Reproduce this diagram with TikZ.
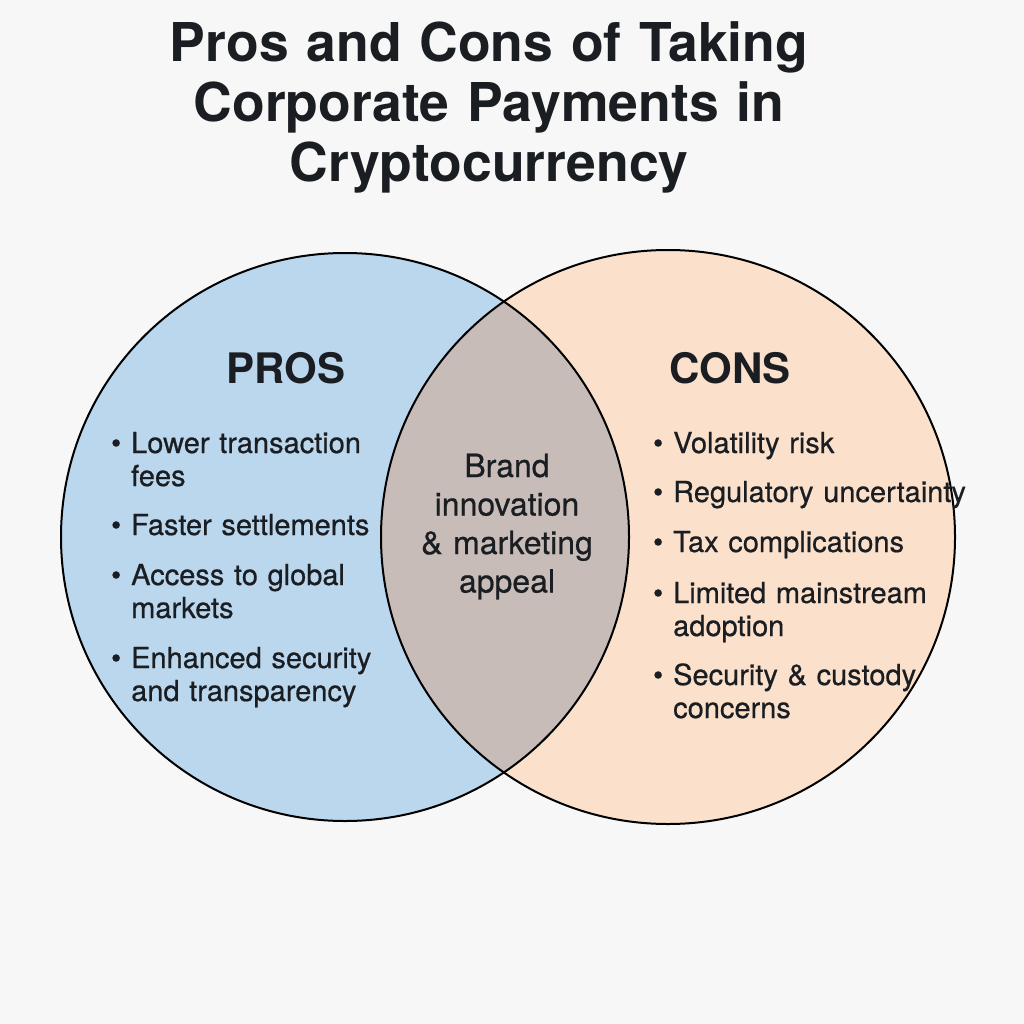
\documentclass[tikz,border=0pt]{standalone}
\usepackage{fontspec}
\setmainfont{TeX Gyre Heros}
\newfontfamily\mediumfont[FakeBold=0.6]{TeX Gyre Heros}
\usepackage{xcolor}

\definecolor{pagegrey}{RGB}{247,247,247}
\definecolor{prosblue}{RGB}{187,215,238}
\definecolor{conspeach}{RGB}{251,225,203}
\definecolor{bothtaupe}{RGB}{199,188,184}
\definecolor{inkdark}{RGB}{26,29,33}

\newcommand{\bul}{\llap{\textbullet\hspace{10pt}}}

\begin{document}
\begin{tikzpicture}[
  x=1pt, y=-1pt,
  %--- text styles ---
  headline/.style={
    font=\fontsize{53.5}{60}\selectfont\bfseries, text=inkdark,
    align=center, text width=900pt, inner sep=0pt, anchor=base
  },
  setname/.style={
    font=\fontsize{42}{48}\selectfont\bfseries, text=inkdark,
    inner sep=0pt, anchor=base
  },
  item/.style={
    font=\mediumfont\fontsize{29}{33}\selectfont, text=inkdark,
    align=left, text width=340pt, inner sep=0pt, anchor=base west
  },
  shared/.style={
    font=\mediumfont\fontsize{32}{38.5}\selectfont, text=inkdark,
    align=center, text width=240pt, inner sep=0pt, anchor=base
  },
  %--- set outline ---
  setline/.style={draw=black, line width=2pt}
]

%------------------------------------------------------------------
%  Page
%------------------------------------------------------------------
\fill[pagegrey] (0,0) rectangle (1024,1024);
\useasboundingbox (0,0) rectangle (1024,1024);

%------------------------------------------------------------------
%  Title
%------------------------------------------------------------------
\node[headline] (title) at (489, 62)
  {Pros and Cons of Taking\\Corporate Payments in\\Cryptocurrency};

%------------------------------------------------------------------
%  Two sets and their overlap
%------------------------------------------------------------------
\coordinate (proscentre) at (345, 537);
\coordinate (conscentre) at (668, 537);

\fill[prosblue]  (proscentre) circle (284pt);
\fill[conspeach] (conscentre) circle (287pt);
\begin{scope}
  \clip (proscentre) circle (284pt);
  \fill[bothtaupe] (conscentre) circle (287pt);
\end{scope}
\draw[setline] (proscentre) circle (284pt);
\draw[setline] (conscentre) circle (287pt);

%------------------------------------------------------------------
%  Headings
%------------------------------------------------------------------
\node[setname] (proshead) at (286, 383) {PROS};
\node[setname] (conshead) at (730, 383) {CONS};

%------------------------------------------------------------------
%  Pros list
%------------------------------------------------------------------
\node[item] (pro1) at (131, 453) {\bul Lower transaction\\fees};
\node[item] (pro2) at (131, 535) {\bul Faster settlements};
\node[item] (pro3) at (131, 585) {\bul Access to global\\markets};
\node[item] (pro4) at (131, 668) {\bul Enhanced security\\and transparency};

%------------------------------------------------------------------
%  Cons list
%------------------------------------------------------------------
\node[item] (con1) at (673, 453) {\bul Volatility risk};
\node[item] (con2) at (673, 502) {\bul Regulatory uncertainty};
\node[item] (con3) at (673, 552) {\bul Tax complications};
\node[item] (con4) at (673, 603) {\bul Limited mainstream\\adoption};
\node[item] (con5) at (673, 685) {\bul Security \& custody\\concerns};

%------------------------------------------------------------------
%  Overlap
%------------------------------------------------------------------
\node[shared] (both) at (507, 477)
  {Brand\\innovation\\\& marketing\\appeal};

\end{tikzpicture}
\end{document}
